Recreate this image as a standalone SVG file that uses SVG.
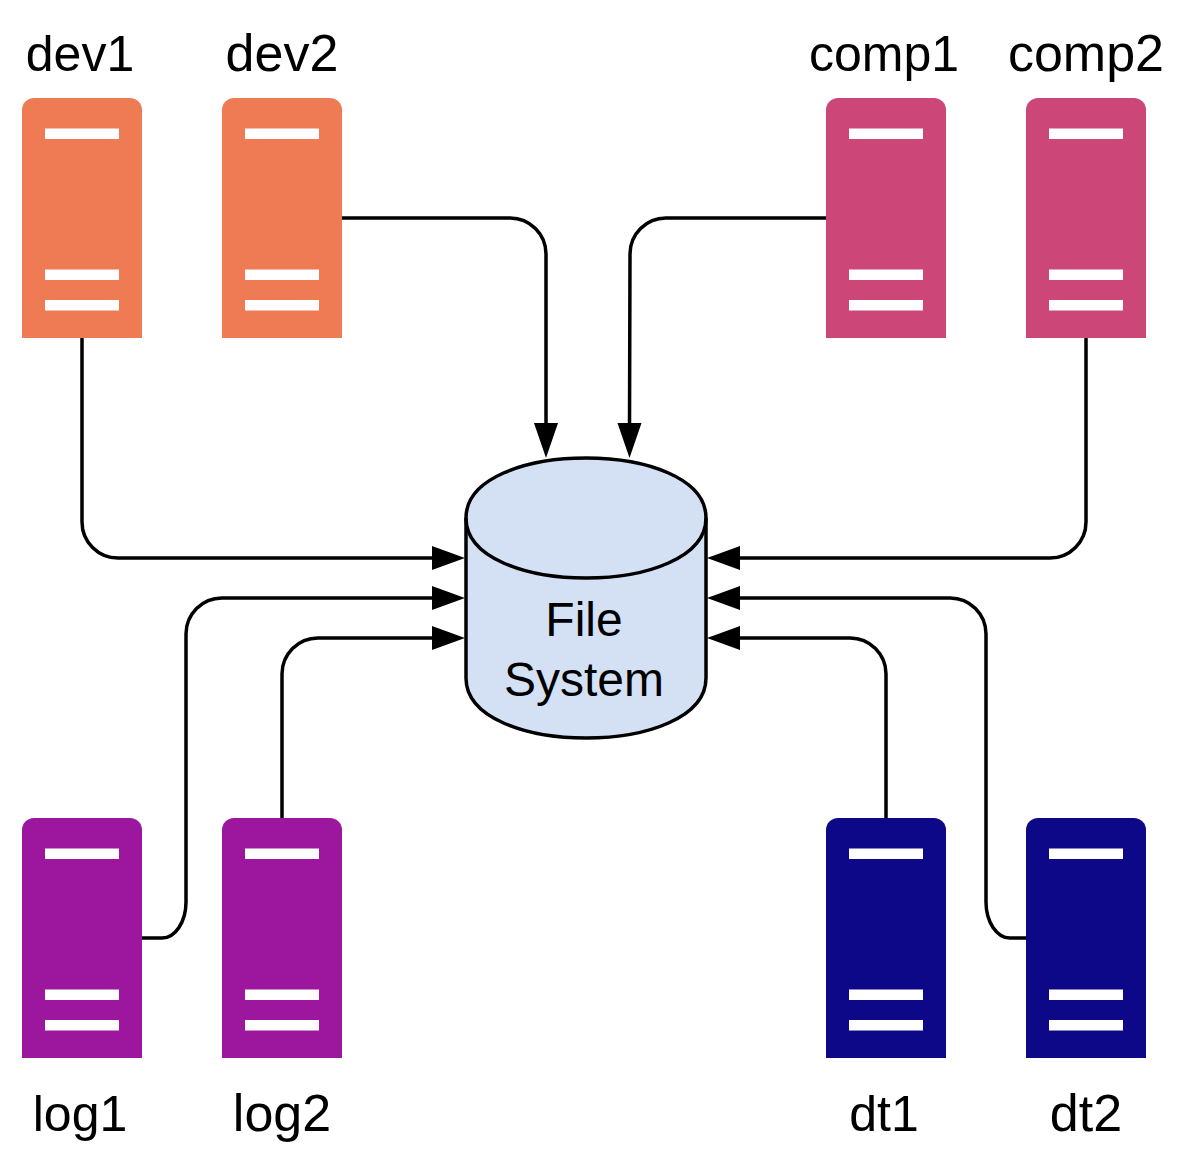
<svg xmlns="http://www.w3.org/2000/svg" width="1184" height="1168" viewBox="0 0 1184 1168">
<style>
text{font-family:"Liberation Sans",Arial,sans-serif;font-size:50px;fill:#000;text-anchor:middle}
text.w{font-size:52px}
#filesystem text{font-size:48px}
.bar{fill:#fff}
.c{fill:none;stroke:#000;stroke-width:3.500}
.a{fill:#000}
</style>
<defs>
<g id="server">
<path d="M0 240V12A12 12 0 0 1 12 0H108A12 12 0 0 1 120 12V240Z"/>
<rect class="bar" x="23" y="30.500" width="74" height="10.500"/>
<rect class="bar" x="23" y="171.500" width="74" height="10.500"/>
<rect class="bar" x="23" y="202" width="74" height="10.500"/>
</g>
</defs>
<rect width="1184" height="1168" fill="#fff"/>
<g id="connectors">
<path class="c" d="M342 218H510A36 36 0 0 1 546 254V426"/>
<path class="c" d="M826 218H666A36 36 0 0 0 630 254L629.500 426"/>
<path class="c" d="M82 338V522A36 36 0 0 0 118 558H434"/>
<path class="c" d="M1086 338V522A36 36 0 0 1 1050 558H738"/>
<path class="c" d="M142 938H162A24 36 0 0 0 186 902V634A36 36 0 0 1 222 598H434"/>
<path class="c" d="M282 818V674A36 36 0 0 1 318 638H434"/>
<path class="c" d="M886 818V674A36 36 0 0 0 850 638H738"/>
<path class="c" d="M1026 938H1010A24 36 0 0 1 986 902V634A36 36 0 0 0 950 598H738"/>
<path class="a" d="M546 458L534 423H558Z"/>
<path class="a" d="M629.500 458L617.500 423H641.500Z"/>
<path class="a" d="M465 558L432 546V570Z"/>
<path class="a" d="M465 598L432 586V610Z"/>
<path class="a" d="M465 638L432 626V650Z"/>
<path class="a" d="M707 558L740 546V570Z"/>
<path class="a" d="M707 598L740 586V610Z"/>
<path class="a" d="M707 638L740 626V650Z"/>
</g>
<g id="dev1" fill="#ef7b55"><use href="#server" x="22" y="98"/><text x="80" y="71">dev1</text></g>
<g id="dev2" fill="#ef7b55"><use href="#server" x="222" y="98"/><text class="w" x="282" y="71">dev2</text></g>
<g id="comp1" fill="#cc4778"><use href="#server" x="826" y="98"/><text x="884" y="71">comp1</text></g>
<g id="comp2" fill="#cc4778"><use href="#server" x="1026" y="98"/><text class="w" x="1086" y="71">comp2</text></g>
<g id="log1" fill="#9c179e"><use href="#server" x="22" y="818"/><text x="80" y="1131">log1</text></g>
<g id="log2" fill="#9c179e"><use href="#server" x="222" y="818"/><text class="w" x="282" y="1131">log2</text></g>
<g id="dt1" fill="#0d0887"><use href="#server" x="826" y="818"/><text x="884" y="1131">dt1</text></g>
<g id="dt2" fill="#0d0887"><use href="#server" x="1026" y="818"/><text class="w" x="1086" y="1131">dt2</text></g>
<g id="filesystem">
<path d="M466 518C466 438 706 438 706 518V678C706 758 466 758 466 678Z" fill="#d4e1f5" stroke="#000" stroke-width="3.500"/>
<path d="M466 518C466 598 706 598 706 518" fill="none" stroke="#000" stroke-width="3.500"/>
<text x="584" y="636">File</text>
<text x="584" y="696">System</text>
</g>
</svg>
